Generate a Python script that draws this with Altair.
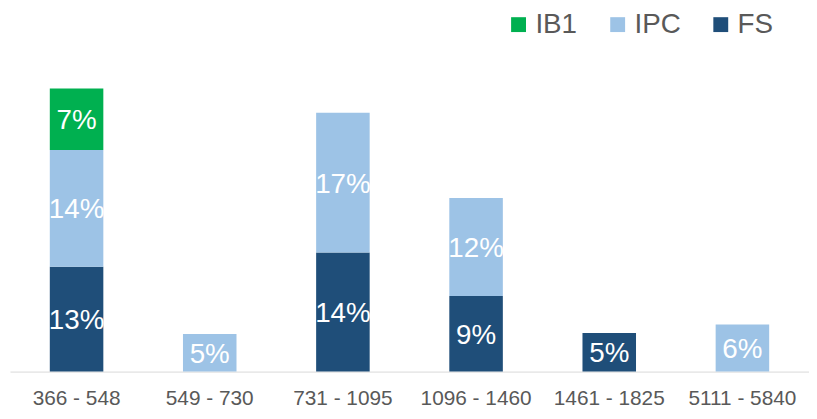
import altair as alt
import pandas as pd

categories = ["366 - 548", "549 - 730", "731 - 1095", "1096 - 1460", "1461 - 1825", "5111 - 5840"]
series_names = ["IB1", "IPC", "FS"]
fs_values = [0.127, None, 0.1442, 0.0917, 0.0469, None]
ipc_values = [0.1415, 0.0455, 0.1695, 0.1186, None, 0.0572]
ib1_values = [0.0745, None, None, None, None, None]
colors = ["#00B050", "#9DC3E6", "#1F4E79"]

rows = []
for name, vals, order in [("FS", fs_values, 0), ("IPC", ipc_values, 1), ("IB1", ib1_values, 2)]:
    for cat, v in zip(categories, vals):
        if v is not None:
            rows.append({"cat": cat, "series": name, "value": v, "ord": order})
df = pd.DataFrame(rows)

FONT = "Liberation Sans"

base = alt.Chart(df).transform_stack(
    stack="value", groupby=["cat"], sort=[alt.SortField("ord", order="ascending")], as_=["y0", "y1"]
).transform_calculate(mid="(datum.y0 + datum.y1) / 2")

xenc = alt.X(
    "cat:N",
    sort=categories,
    scale=alt.Scale(paddingInner=0, paddingOuter=0),
    axis=alt.Axis(
        title=None,
        labelAngle=0,
        ticks=False,
        tickSize=0,
        grid=False,
        domainColor="#D9D9D9",
        domainWidth=1,
        labelFont=FONT,
        labelFontSize=21,
        labelColor="#595959",
        labelBaseline="alphabetic",
        labelPadding=33,
    ),
)

yscale = alt.Scale(domain=[0, 0.40])

bars = base.mark_bar(size=54).encode(
    x=xenc,
    y=alt.Y("y0:Q", scale=yscale, axis=None),
    y2="y1:Q",
    color=alt.Color(
        "series:N",
        scale=alt.Scale(domain=series_names, range=colors),
        legend=alt.Legend(
            title=None,
            orient="none",
            direction="horizontal",
            legendX=499,
            legendY=-31,
            padding=0,
            symbolType="square",
            symbolSize=225,
            symbolStrokeWidth=0,
            labelFont=FONT,
            labelFontSize=28,
            labelColor="#595959",
            labelOffset=3,
            columnPadding=26,
        ),
    ),
)

labels = base.mark_text(
    font=FONT, fontSize=28, color="white", baseline="middle", dy=2
).encode(
    x=alt.X("cat:N", sort=categories),
    y=alt.Y("mid:Q", scale=yscale),
    text=alt.Text("value:Q", format=".0%"),
)

chart = (
    alt.layer(bars, labels)
    .properties(
        width=806,
        height=333,
        background="white",
        autosize=alt.AutoSizeParams(type="none"),
        padding={"left": 2, "top": 32, "right": 0, "bottom": 40},
    )
    .configure_view(strokeWidth=0, stroke=None)
)

chart.save("out.html", embed_options={"renderer": "svg", "actions": False})
